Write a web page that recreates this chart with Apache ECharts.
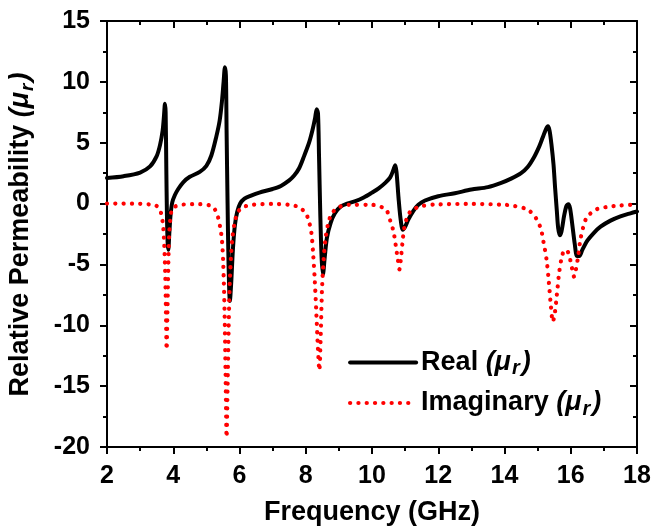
<!DOCTYPE html>
<html>
<head>
<meta charset="utf-8">
<script src="https://cdn.jsdelivr.net/npm/echarts@6/dist/echarts.min.js"></script>
<style>
html,body{margin:0;padding:0;background:#fff;}
#c{width:654px;height:529px;}
</style>
</head>
<body>
<div id="c"></div>
<script>
// Frequency (GHz) / real part of relative permeability
const realFreq = [2.0,2.5,3.0,3.3,3.5,3.6,3.68,3.72,3.75,3.77,3.79,3.81,3.83,3.85,3.88,3.92,3.97,4.05,4.15,4.3,4.5,4.8,5.0,5.15,5.3,5.4,5.47,5.52,5.56,5.59,5.61,5.64,5.67,5.71,5.75,5.8,5.86,5.93,6.02,6.15,6.35,6.6,7.0,7.25,7.5,7.65,7.8,7.95,8.1,8.2,8.28,8.33,8.37,8.4,8.44,8.48,8.52,8.57,8.64,8.75,8.88,9.05,9.25,9.5,9.75,10.0,10.2,10.4,10.55,10.65,10.7,10.74,10.8,10.86,10.93,11.0,11.1,11.25,11.4,11.6,12.0,12.5,13.0,13.5,13.9,14.2,14.5,14.7,14.9,15.05,15.15,15.25,15.31,15.36,15.42,15.48,15.53,15.58,15.62,15.67,15.72,15.8,15.87,15.93,15.98,16.05,16.12,16.19,16.26,16.35,16.5,16.7,16.9,17.2,17.5,17.8,18.0];
const realVal = [2.10,2.25,2.55,3.05,3.9,4.8,6.0,7.2,8.2,7.5,3.0,-1.0,-3.2,-3.8,-2.5,-0.9,0.1,0.7,1.2,1.75,2.2,2.6,3.1,3.95,5.5,6.8,8.4,10.0,11.2,10.5,6.0,0.0,-5.0,-8.0,-6.5,-3.8,-1.8,-0.7,0.0,0.4,0.65,0.9,1.2,1.45,1.9,2.3,2.9,3.9,5.0,6.0,7.0,7.75,7.4,4.0,-1.0,-4.5,-5.8,-4.5,-2.8,-1.6,-0.8,-0.25,0.0,0.2,0.5,0.9,1.25,1.7,2.15,2.8,3.15,2.6,0.5,-1.2,-2.15,-1.9,-1.3,-0.6,-0.1,0.25,0.6,0.85,1.15,1.35,1.7,2.05,2.5,3.0,3.85,4.7,5.4,6.1,6.35,6.0,4.8,3.2,1.2,-0.6,-2.0,-2.6,-2.3,-1.0,-0.2,-0.05,-0.4,-1.8,-3.3,-4.3,-4.3,-3.8,-3.05,-2.4,-1.9,-1.4,-1.05,-0.8,-0.65];

// Frequency (GHz) / imaginary part of relative permeability
const imagFreq = [2.0,3.0,3.4,3.5,3.6,3.65,3.7,3.73,3.76,3.78,3.80,3.82,3.84,3.86,3.88,3.91,3.95,4.05,4.3,4.8,5.1,5.25,5.35,5.42,5.47,5.51,5.55,5.58,5.61,5.64,5.67,5.70,5.74,5.79,5.86,5.95,6.1,6.4,7.0,7.5,7.8,8.0,8.1,8.17,8.22,8.27,8.32,8.37,8.41,8.45,8.49,8.54,8.6,8.7,8.82,9.0,9.3,10.0,10.3,10.45,10.55,10.65,10.72,10.78,10.83,10.87,10.92,10.98,11.08,11.2,11.5,12.0,13.0,14.0,14.3,14.7,14.95,15.1,15.18,15.27,15.34,15.4,15.46,15.52,15.58,15.65,15.73,15.82,15.92,16.0,16.06,16.1,16.15,16.22,16.29,16.38,16.47,16.6,16.8,17.1,17.5,18.0];
const imagVal = [0,-0.02,-0.1,-0.2,-0.55,-1.0,-2.0,-3.5,-6.0,-9.0,-12.0,-9.5,-6.5,-4.0,-2.4,-1.3,-0.6,-0.25,-0.08,-0.05,-0.15,-0.45,-1.1,-2.0,-3.0,-5.0,-9.0,-14.0,-19.2,-15.0,-10.5,-7.0,-4.5,-2.7,-1.5,-0.7,-0.3,-0.1,-0.03,-0.1,-0.3,-0.8,-1.5,-2.4,-4.0,-6.2,-9.0,-12.0,-13.7,-11.0,-7.1,-4.6,-2.8,-1.4,-0.7,-0.3,-0.1,-0.1,-0.3,-0.6,-1.4,-2.3,-3.5,-4.6,-5.4,-4.6,-3.2,-1.9,-1.0,-0.55,-0.2,-0.07,-0.03,-0.1,-0.2,-0.5,-1.2,-2.1,-3.2,-4.6,-6.5,-8.4,-9.7,-9.0,-7.5,-5.7,-4.4,-3.8,-4.0,-4.8,-5.6,-6.0,-5.5,-4.4,-3.0,-1.9,-1.2,-0.8,-0.45,-0.28,-0.15,-0.08];

const xMin = 2, xMax = 18, xStep = 2;
const yMin = -20, yMax = 15, yStep = 5;
const seriesNames = ['Real', 'Imaginary'];

const FONT = 'Liberation Sans, Arial, sans-serif';
const pair = (xs, ys) => xs.map((x, i) => [x, ys[i]]);

const axisCommon = {
  axisLine: { show: true, onZero: false, lineStyle: { color: '#000', width: 2 } },
  splitLine: { show: false },
  minorSplitLine: { show: false }
};

const chart = echarts.init(document.getElementById('c'), null, { renderer: 'canvas' });
chart.setOption({
  animation: false,
  backgroundColor: '#fff',
  grid: { left: 107, right: 17, top: 21, bottom: 82, containLabel: false, outerBoundsMode: 'none' },
  legend: {
    orient: 'vertical',
    left: 343,
    top: 344,
    itemWidth: 66,
    itemHeight: 14,
    itemGap: 11,
    data: seriesNames,
    itemStyle: { opacity: 0 },
    lineStyle: { width: 'inherit', type: 'inherit', cap: 'round' },
    formatter: function (name) {
      return '{t|' + name + ' }{m|(μ}{s|r}{m|)}';
    },
    textStyle: {
      color: '#000',
      fontFamily: FONT,
      rich: {
        t: { fontSize: 27, fontWeight: 'bold', fontFamily: FONT, color: '#000', lineHeight: 32 },
        m: { fontSize: 27, fontWeight: 'bold', fontStyle: 'italic', fontFamily: FONT, color: '#000', lineHeight: 32, padding: [0, 1, 0, 0] },
        s: { fontSize: 20, fontWeight: 'bold', fontStyle: 'italic', fontFamily: FONT, color: '#000', lineHeight: 18, verticalAlign: 'bottom', padding: [0, 2, 0, 0] }
      }
    }
  },
  xAxis: [
    Object.assign({}, axisCommon, {
      type: 'value', position: 'bottom', min: xMin, max: xMax, interval: xStep,
      name: 'Frequency (GHz)', nameLocation: 'middle', nameGap: 52,
      nameTextStyle: { fontSize: 27, fontWeight: 'bold', fontFamily: FONT, color: '#000' },
      axisTick: { show: true, inside: false, length: 7, lineStyle: { color: '#000', width: 2 } },
      minorTick: { show: true, splitNumber: 2, length: 4, lineStyle: { color: '#000', width: 2 } },
      axisLabel: { show: true, margin: 17, fontSize: 25, fontWeight: 'bold', fontFamily: FONT, color: '#000' }
    }),
    Object.assign({}, axisCommon, {
      type: 'value', position: 'top', min: xMin, max: xMax, interval: xStep,
      axisTick: { show: true, inside: true, length: 7, lineStyle: { color: '#000', width: 2 } },
      minorTick: { show: true, splitNumber: 2, length: 4, lineStyle: { color: '#000', width: 2 } },
      axisLabel: { show: false }
    })
  ],
  yAxis: [
    Object.assign({}, axisCommon, {
      type: 'value', position: 'left', min: yMin, max: yMax, interval: yStep,
      name: '{n|Relative Permeability }{m|(μ}{s|r}{m|)}', nameLocation: 'middle', nameGap: 70, nameRotate: 90,
      nameTextStyle: {
        fontSize: 27, fontWeight: 'bold', fontFamily: FONT, color: '#000',
        rich: {
          n: { fontSize: 27, fontWeight: 'bold', fontFamily: FONT, color: '#000', lineHeight: 32 },
          m: { fontSize: 27, fontWeight: 'bold', fontStyle: 'italic', fontFamily: FONT, color: '#000', lineHeight: 32, padding: [0, 1, 0, 0] },
          s: { fontSize: 19, fontWeight: 'bold', fontStyle: 'italic', fontFamily: FONT, color: '#000', lineHeight: 18, verticalAlign: 'bottom', padding: [0, 2, 0, 0] }
        }
      },
      axisTick: { show: true, inside: false, length: 7, lineStyle: { color: '#000', width: 2 } },
      minorTick: { show: true, splitNumber: 2, length: 4, lineStyle: { color: '#000', width: 2 } },
      axisLabel: { show: true, margin: 17, fontSize: 25, fontWeight: 'bold', fontFamily: FONT, color: '#000' }
    }),
    Object.assign({}, axisCommon, {
      type: 'value', position: 'right', min: yMin, max: yMax, interval: yStep,
      axisTick: { show: true, inside: true, length: 7, lineStyle: { color: '#000', width: 2 } },
      minorTick: { show: true, splitNumber: 2, length: 4, lineStyle: { color: '#000', width: 2 } },
      axisLabel: { show: false }
    })
  ],
  series: [
    {
      name: seriesNames[0], type: 'line', xAxisIndex: 0, yAxisIndex: 0,
      data: pair(realFreq, realVal), showSymbol: false, symbol: 'none', smooth: 0.3,
      lineStyle: { color: '#000', width: 4, join: 'round', cap: 'round' },
      itemStyle: { color: '#000' }
    },
    {
      name: seriesNames[1], type: 'line', xAxisIndex: 0, yAxisIndex: 0,
      data: pair(imagFreq, imagVal), showSymbol: false, symbol: 'none', smooth: 0.3,
      lineStyle: { color: '#ff0000', width: 4.2, type: [0.1, 8.2], cap: 'round', join: 'round' },
      itemStyle: { color: '#ff0000' }
    }
  ]
});
</script>
</body>
</html>
